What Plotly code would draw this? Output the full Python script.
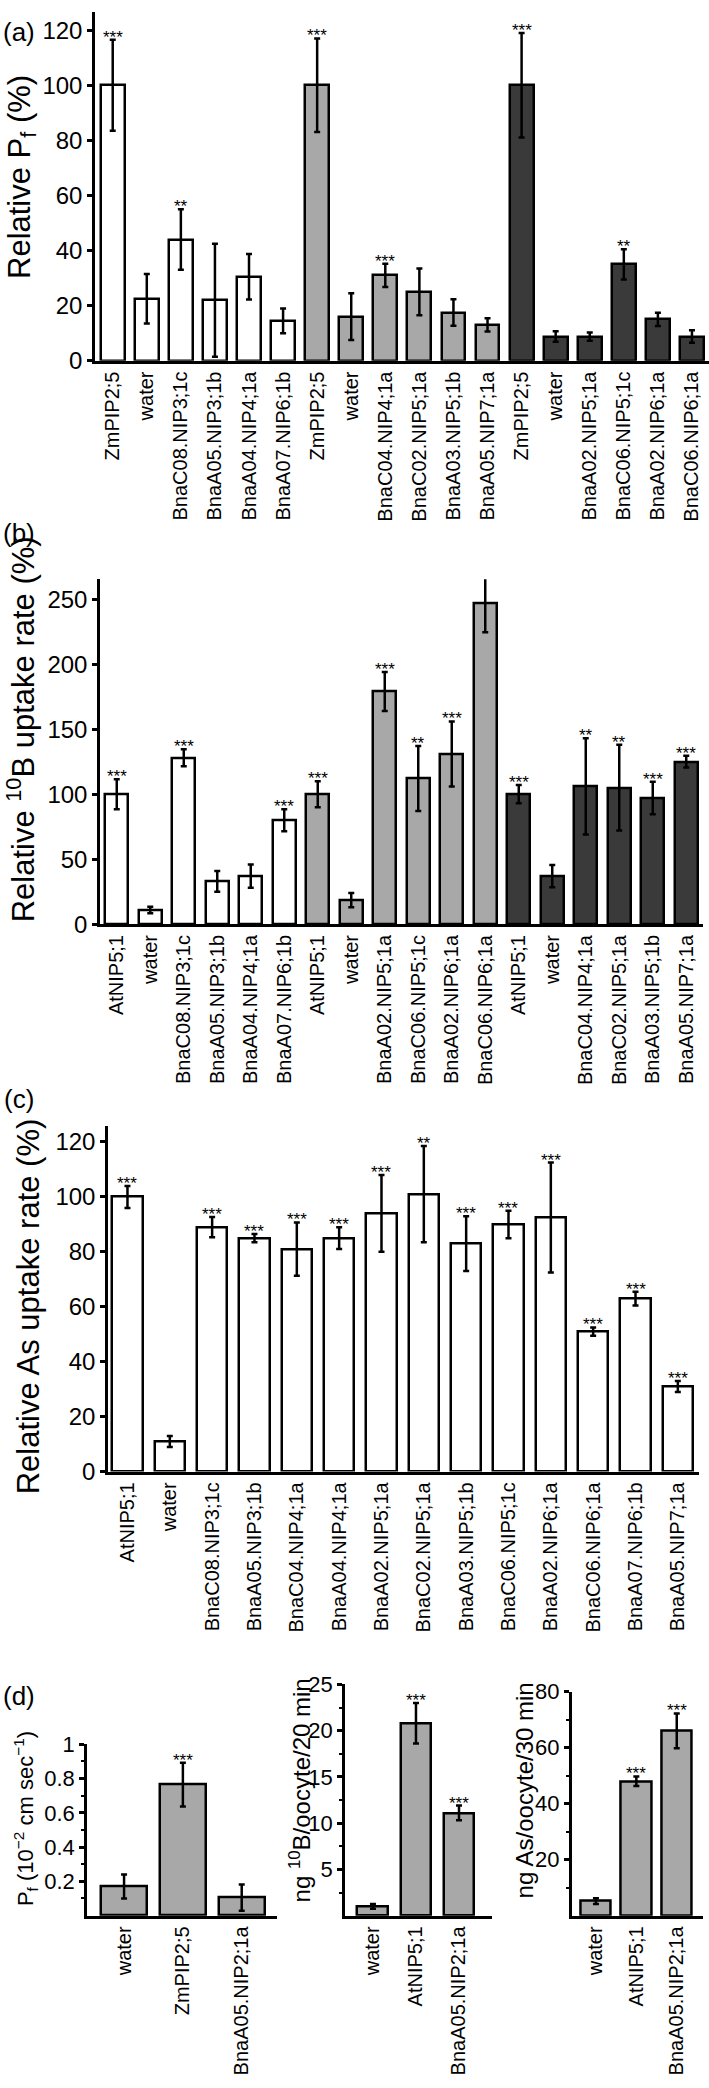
import plotly.graph_objects as go

W, H = 709, 2088
FONT = "Liberation Sans, Arial, Helvetica, sans-serif"

WHITE, GREY, DARK = "#ffffff", "#a8a8a8", "#3a3a3a"

# ---------------- Panel (a): relative Pf ----------------
a_labels = ["ZmPIP2;5", "water", "BnaC08.NIP3;1c", "BnaA05.NIP3;1b", "BnaA04.NIP4;1a", "BnaA07.NIP6;1b",
            "ZmPIP2;5", "water", "BnaC04.NIP4;1a", "BnaC02.NIP5;1a", "BnaA03.NIP5;1b", "BnaA05.NIP7;1a",
            "ZmPIP2;5", "water", "BnaA02.NIP5;1a", "BnaC06.NIP5;1c", "BnaA02.NIP6;1a", "BnaC06.NIP6;1a"]
a_values = [100, 22.5, 44, 22, 30.5, 14.5, 100, 16, 31, 25, 17.5, 13, 100, 8.8, 8.8, 35, 15, 8.8]
a_errors = [16.5, 9, 11, 20.5, 8.3, 4.5, 17, 8.5, 4.2, 8.5, 4.8, 2.4, 19, 1.9, 1.5, 5.5, 2.4, 2.3]
a_stars = ["***", "", "**", "", "", "", "***", "", "***", "", "", "", "***", "", "", "**", "", ""]
a_groups = ["w", "w", "w", "w", "w", "w", "g", "g", "g", "g", "g", "g", "d", "d", "d", "d", "d", "d"]

# ---------------- Panel (b): relative 10B uptake ----------------
b_labels = ["AtNIP5;1", "water", "BnaC08.NIP3;1c", "BnaA05.NIP3;1b", "BnaA04.NIP4;1a", "BnaA07.NIP6;1b",
            "AtNIP5;1", "water", "BnaA02.NIP5;1a", "BnaC06.NIP5;1c", "BnaA02.NIP6;1a", "BnaC06.NIP6;1a",
            "AtNIP5;1", "water", "BnaC04.NIP4;1a", "BnaC02.NIP5;1a", "BnaA03.NIP5;1b", "BnaA05.NIP7;1a"]
b_values = [100, 11, 128, 33, 37, 80, 100, 18.5, 179, 112, 131, 247, 100, 37, 106, 105, 97, 125]
b_errors = [11.5, 2.5, 6.5, 8, 9, 8.5, 10, 5.5, 15, 25, 25, 22.5, 7, 8.5, 37, 33, 12.5, 4.5]
b_stars = ["***", "", "***", "", "", "***", "***", "", "***", "**", "***", "***",
           "***", "", "**", "**", "***", "***"]
b_groups = ["w", "w", "w", "w", "w", "w", "g", "g", "g", "g", "g", "g", "d", "d", "d", "d", "d", "d"]

# ---------------- Panel (c): relative As uptake ----------------
c_labels = ["AtNIP5;1", "water", "BnaC08.NIP3;1c", "BnaA05.NIP3;1b", "BnaC04.NIP4;1a", "BnaA04.NIP4;1a",
            "BnaA02.NIP5;1a", "BnaC02.NIP5;1a", "BnaA03.NIP5;1b", "BnaC06.NIP5;1c", "BnaA02.NIP6;1a",
            "BnaC06.NIP6;1a", "BnaA07.NIP6;1b", "BnaA05.NIP7;1a"]
c_values = [100, 11, 89, 85, 81, 85, 94, 101, 83, 90, 92.5, 51, 63, 31]
c_errors = [4, 2, 3.7, 1.5, 9.7, 4, 14, 17.5, 10, 5, 20, 1.5, 2.5, 2]
c_stars = ["***", "", "***", "***", "***", "***", "***", "**", "***", "***", "***", "***", "***", "***"]
c_groups = ["w"] * 14

# ---------------- Panel (d) ----------------
d1_labels = ["water", "ZmPIP2;5", "BnaA05.NIP2;1a"]
d1_values = [0.17, 0.765, 0.105]
d1_errors = [0.07, 0.128, 0.077]
d1_stars = ["", "***", ""]

d2_labels = ["water", "AtNIP5;1", "BnaA05.NIP2;1a"]
d2_values = [1.0, 20.8, 11.1]
d2_errors = [0.25, 2.2, 0.8]
d2_stars = ["", "***", "***"]

d3_labels = ["water", "AtNIP5;1", "BnaA05.NIP2;1a"]
d3_values = [5.2, 48, 66]
d3_errors = [1.0, 1.7, 6.2]
d3_stars = ["", "***", "***"]

group_color = {"w": WHITE, "g": GREY, "d": DARK}

fig = go.Figure()
annotations = []


def px_x(p):
    return p / W


def px_y(p):
    return 1 - p / H


def panel(idx, labels, values, errors, stars, colors, xdom, ydom, xrange, yrange,
          ytickvals, bar_w, tickfont=24, xfont=20, minor=None):
    xa = "xaxis" if idx == 1 else f"xaxis{idx}"
    ya = "yaxis" if idx == 1 else f"yaxis{idx}"
    xr = "x" if idx == 1 else f"x{idx}"
    yr = "y" if idx == 1 else f"y{idx}"
    xs = list(range(len(labels)))
    fig.add_trace(go.Bar(
        x=xs, y=values, width=bar_w, xaxis=xr, yaxis=yr,
        marker=dict(color=colors, line=dict(color="black", width=2.5)),
        error_y=dict(type="data", array=errors, color="black", thickness=2.5, width=3),
        cliponaxis=False, showlegend=False, hoverinfo="skip"))
    fig.layout[xa] = dict(
        domain=[px_x(xdom[0]), px_x(xdom[1])], range=xrange, anchor=yr,
        tickmode="array", tickvals=xs, ticktext=labels, tickangle=-90,
        tickfont=dict(size=xfont, color="black", family=FONT),
        showline=True, linecolor="black", linewidth=2.5, ticks="",
        showgrid=False, zeroline=False, fixedrange=True)
    yd = dict(
        domain=[px_y(ydom[1]), px_y(ydom[0])], range=yrange, anchor=xr,
        tickmode="array", tickvals=ytickvals,
        tickfont=dict(size=tickfont, color="black", family=FONT),
        showline=True, linecolor="black", linewidth=2.5,
        ticks="outside", ticklen=5, tickwidth=2.5, tickcolor="black",
        showgrid=False, zeroline=False, fixedrange=True)
    if minor is not None:
        yd["minor"] = dict(tickvals=minor, ticks="outside", ticklen=3, tickwidth=2, tickcolor="black")
    fig.layout[ya] = yd
    for x, v, e, s in zip(xs, values, errors, stars):
        if s:
            annotations.append(dict(
                x=x, y=v + e, xref=xr, yref=yr, text=s, showarrow=False,
                xanchor="center", yanchor="bottom", yshift=-9,
                font=dict(size=17, color="black", family=FONT)))


panel(1, a_labels, a_values, a_errors, a_stars, [group_color[g] for g in a_groups],
      (95, 709), (0, 353), [-0.52, 17.5], [0, 126.6], [0, 20, 40, 60, 80, 100, 120], 0.7)
panel(2, b_labels, b_values, b_errors, b_stars, [group_color[g] for g in b_groups],
      (100, 703), (574, 923.3), [-0.5, 17.5], [0, 265.4], [0, 50, 100, 150, 200, 250], 0.69)
panel(3, c_labels, c_values, c_errors, c_stars, [group_color[g] for g in c_groups],
      (108, 699), (1127, 1477.3), [-0.46, 13.5], [0, 126], [0, 20, 40, 60, 80, 100, 120], 0.71)
panel(4, d1_labels, d1_values, d1_errors, d1_stars, [GREY] * 3,
      (87, 277), (1753.3, 1926.7), [-0.63, 2.6], [0, 1], [0.2, 0.4, 0.6, 0.8, 1], 0.78,
      tickfont=22, xfont=20, minor=[0.1, 0.3, 0.5, 0.7, 0.9])
panel(5, d2_labels, d2_values, d2_errors, d2_stars, [GREY] * 3,
      (345, 491.7), (1692.7, 1926.7), [-0.65, 2.76], [0, 25], [5, 10, 15, 20, 25], 0.72,
      tickfont=22, xfont=20, minor=[2.5, 7.5, 12.5, 17.5, 22.5])
panel(6, d3_labels, d3_values, d3_errors, d3_stars, [GREY] * 3,
      (571.7, 703), (1700, 1926.7), [-0.6, 2.65], [0, 80], [20, 40, 60, 80], 0.75,
      tickfont=22, xfont=20, minor=[10, 30, 50, 70])

# axis titles (rotated)
titles = [
    ("Relative P<sub>f</sub> (%)", 22, 167, 31),
    ("Relative <sup>10</sup>B uptake rate (%)", 21, 726, 31),
    ("Relative As uptake rate (%)", 28, 1310, 31),
    ("P<sub>f</sub> (10<sup>\u22122</sup> cm sec<sup>\u22121</sup>)", 25, 1829, 22),
    ("ng <sup>10</sup>B/oocyte/20 min", 300, 1800, 24),
    ("ng As/oocyte/30 min", 524, 1800, 24),
]
for t, x, y, s in titles:
    annotations.append(dict(
        x=px_x(x), y=px_y(y), xref="paper", yref="paper", text=t, textangle=-90,
        showarrow=False, xanchor="center", yanchor="middle",
        font=dict(size=s, color="black", family=FONT)))

# panel letters
for t, x, y in [("(a)", 19, 20), ("(b)", 19, 527), ("(c)", 19, 1100), ("(d)", 19, 1704)]:
    annotations.append(dict(
        x=px_x(x), y=px_y(y), xref="paper", yref="paper", text=t, showarrow=False,
        xanchor="center", yanchor="middle", font=dict(size=26, color="black", family=FONT)))

fig.update_layout(
    width=W, height=H, margin=dict(l=0, r=0, t=0, b=0),
    paper_bgcolor="white", plot_bgcolor="white",
    font=dict(family=FONT, color="black"),
    annotations=annotations, bargap=0)

fig.write_html(
    "out.html", config={"displayModeBar": False},
    post_script="document.documentElement.style.margin='0';document.body.style.margin='0';"
                "document.body.style.padding='0';document.body.style.overflow='hidden';")
